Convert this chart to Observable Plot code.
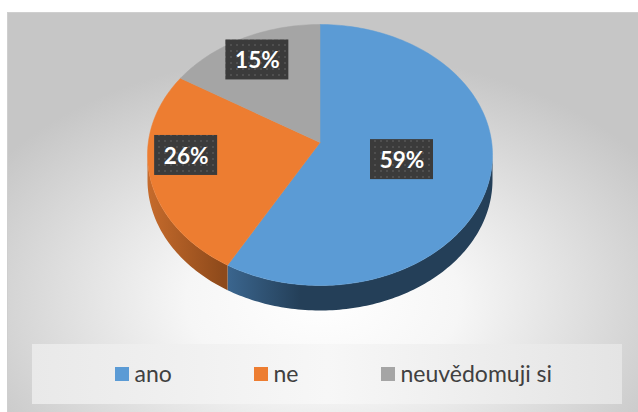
<!DOCTYPE html>
<html><head><meta charset="utf-8">
<script src="https://cdn.jsdelivr.net/npm/d3@7"></script>
<script src="https://cdn.jsdelivr.net/npm/@observablehq/plot@0.6"></script>
<style>body{margin:0;background:#fff} svg{display:block}</style>
</head><body><div id="chart"></div>
<script>
// ---- data ----
const categories = ["ano", "ne", "neuvědomuji si"];
const shares = [59, 26, 15];
const labels = ["59%", "26%", "15%"];
const colors = ["#5b9bd5", "#ed7d31", "#a5a5a5"];

// ---- layout ----
const W = 638, H = 412;
const cx = 319.5, cy = 154.5, rx = 172.5, ry = 130.5, apexY = 142, depth = 25;
const labelK = [[0.495, 0.47], [0.79, 0.53], [0.8, 0.71]];
const legendX = [115, 254, 381];
const sideGrad = ["url(#sideBlue)", "url(#sideOrange)", "url(#sideGray)"];

const total = d3.sum(shares);
const TAU = 2 * Math.PI;
const px = t => cx + rx * Math.sin(t);
const py = t => cy - ry * Math.cos(t);

let acc = 0;
const slices = categories.map((c, i) => {
  const a0 = acc / total * TAU;
  acc += shares[i];
  const a1 = acc / total * TAU;
  return {c, i, a0, a1, mid: (a0 + a1) / 2};
});

function arc(a, b, dy = 0) {
  const n = Math.max(2, Math.ceil(Math.abs(b - a) / 0.02));
  return d3.range(n + 1).map(k => {
    const t = a + (b - a) * k / n;
    return {x: px(t), y: py(t) + dy};
  });
}

const topPts = [], sidePts = [];
for (const s of slices) {
  const pts = [{x: cx, y: apexY}, ...arc(s.a0, s.a1), {x: cx, y: apexY}];
  pts.forEach(p => topPts.push({...p, c: s.c, i: s.i}));
  const lo = Math.max(s.a0, Math.PI / 2), hi = Math.min(s.a1, 3 * Math.PI / 2);
  if (hi > lo) {
    const side = [...arc(lo, hi), ...arc(hi, lo, depth)];
    side.forEach(p => sidePts.push({...p, c: s.c, i: s.i}));
  }
}
const outline = [...arc(-Math.PI / 2, Math.PI / 2, 0), ...arc(Math.PI / 2, 3 * Math.PI / 2, depth)]
  .map(p => ({x: p.x, y: p.y + 4}));

const labelData = slices.map(s => {
  const [kx, ky] = labelK[s.i];
  return {
    text: labels[s.i],
    x: cx + kx * rx * Math.sin(s.mid),
    y: apexY - ky * ry * Math.cos(s.mid)
  };
});
const boxW = 63, boxH = 40;

const legendData = categories.map((c, i) => ({c, i, x: legendX[i]}));
const swatch = 14, legendY = 374;

const marks = [
  Plot.frame({fill: "url(#bg)", stroke: "#cfcfcf"}),
  Plot.line(outline, {x: "x", y: "y", fill: "#6a6a6a", stroke: "none", fillOpacity: 0.6, ariaLabel: "pie-shadow"}),
  ...slices.map(s => Plot.line(sidePts.filter(p => p.i === s.i), {x: "x", y: "y", fill: sideGrad[s.i], stroke: "none"})),
  ...slices.map(s => Plot.line(topPts.filter(p => p.i === s.i), {x: "x", y: "y", fill: colors[s.i], stroke: colors[s.i], strokeWidth: 0.5})),
  Plot.rect(labelData, {x1: d => d.x - boxW / 2, x2: d => d.x + boxW / 2, y1: d => d.y - boxH / 2, y2: d => d.y + boxH / 2, fill: "url(#dots)", ariaLabel: "label-box"}),
  Plot.text(labelData, {x: "x", y: d => d.y + 1, text: "text", fill: "white", fontSize: 22.5, fontWeight: "bold", fontFamily: "Lato"}),
  Plot.rect([{}], {x1: 32, x2: 622, y1: 344, y2: 404, fill: "url(#legendBg)"}),
  Plot.rect(legendData, {x1: "x", x2: d => d.x + swatch, y1: legendY - swatch / 2, y2: legendY + swatch / 2, fill: d => colors[d.i]}),
  Plot.text(legendData, {x: d => d.x + swatch + 5, y: legendY, text: "c", textAnchor: "start", fill: "#404040", fontSize: 23, fontFamily: "Lato"})
];

const svg = Plot.plot({
  width: W, height: H,
  marginLeft: 7, marginTop: 12, marginRight: 0, marginBottom: 0,
  x: {type: "linear", domain: [7, W], axis: null},
  y: {type: "linear", domain: [12, H], range: [12, H], axis: null},
  color: {type: "identity"},
  marks
});

d3.select(svg).insert("defs", ":first-child").html(`
  <radialGradient id="bg" cx="0.5" cy="0.72" r="0.62">
    <stop offset="0" stop-color="#ffffff"/>
    <stop offset="0.35" stop-color="#f6f6f6"/>
    <stop offset="1" stop-color="#c6c6c6"/>
  </radialGradient>
  <linearGradient id="legendBg" x1="0" x2="1" y1="0" y2="0">
    <stop offset="0" stop-color="#e9e9e9"/>
    <stop offset="0.5" stop-color="#f7f7f7"/>
    <stop offset="1" stop-color="#e4e4e4"/>
  </linearGradient>
  <linearGradient id="sideBlue" gradientUnits="userSpaceOnUse" x1="222" x2="300" y1="0" y2="0">
    <stop offset="0" stop-color="#3c6892"/>
    <stop offset="1" stop-color="#243f58"/>
  </linearGradient>
  <linearGradient id="sideOrange" gradientUnits="userSpaceOnUse" x1="147" x2="222" y1="0" y2="0">
    <stop offset="0" stop-color="#c66b2c"/>
    <stop offset="1" stop-color="#8e4a1b"/>
  </linearGradient>
  <linearGradient id="sideGray" x1="0" x2="1"><stop offset="0" stop-color="#777"/><stop offset="1" stop-color="#555"/></linearGradient>
  <pattern id="dots" width="6" height="6" patternUnits="userSpaceOnUse">
    <rect width="6" height="6" fill="#3b3b3b"/>
    <circle cx="3" cy="3" r="1" fill="#555555"/>
  </pattern>
  <filter id="blur" x="-20%" y="-20%" width="140%" height="140%"><feGaussianBlur stdDeviation="6"/></filter>
  <filter id="drop" x="-30%" y="-30%" width="160%" height="170%"><feDropShadow dx="2" dy="3" stdDeviation="2" flood-color="#000" flood-opacity="0.45"/></filter>
`);
d3.select(svg).selectAll('g[aria-label="pie-shadow"]').attr("filter", "url(#blur)");
d3.select(svg).selectAll('g[aria-label="label-box"]').attr("filter", "url(#drop)");

document.getElementById("chart").append(svg);
</script>
</body></html>
